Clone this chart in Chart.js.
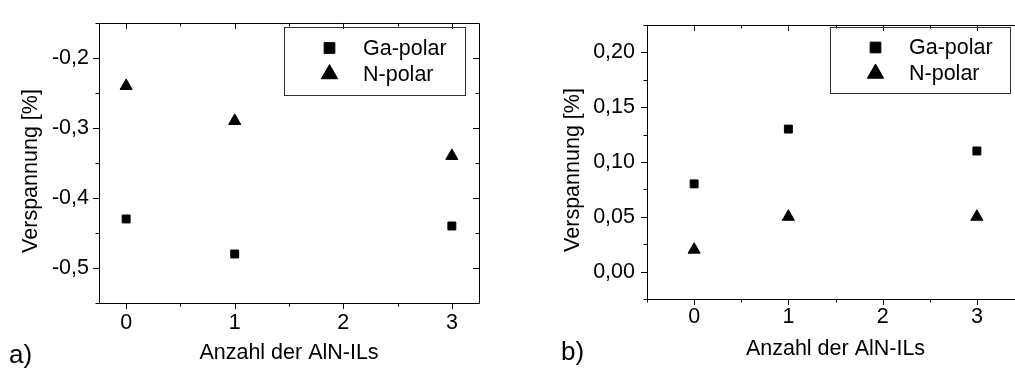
<!DOCTYPE html>
<html>
<head>
<meta charset="utf-8">
<script src="https://cdn.jsdelivr.net/npm/chart.js@4.4.0/dist/chart.umd.min.js"></script>
<style>
  html, body { margin: 0; padding: 0; background: #fff; }
  body { width: 1015px; height: 370px; overflow: hidden; position: relative; font-family: "Liberation Sans", Arial, sans-serif; }
  .box { position: absolute; top: 0; height: 370px; }
  #boxA { left: 0; width: 500px; }
  #boxB { left: 500px; width: 545px; }
  .tag { position: absolute; font-size: 26px; line-height: 26px; color: #000; }
</style>
</head>
<body>
<div class="box" id="boxA"><canvas id="chartA" width="500" height="370"></canvas></div>
<div class="box" id="boxB"><canvas id="chartB" width="545" height="370"></canvas></div>
<div class="tag" style="left:9px; top:341px;">a)</div>
<div class="tag" style="left:561px; top:338px;">b)</div>
<script>
// number of AlN interlayers
const ilCount = [0, 1, 3];
const seriesNames = ['Ga-polar', 'N-polar'];

// strain values, panel a) and b)
const strainGaA = [-0.43, -0.48, -0.44];
const strainNA = [-0.24, -0.29, -0.34];
const strainGaB = [0.08, 0.13, 0.11];
const strainNB = [0.02, 0.05, 0.05];

// tick values + labels
const xTickVals = [0, 1, 2, 3];
const xTickLabels = ['0', '1', '2', '3'];
const yTickValsA = [-0.5, -0.4, -0.3, -0.2];
const yTickLabelsA = ['-0,5', '-0,4', '-0,3', '-0,2'];
const yTickValsB = [0, 0.05, 0.10, 0.15, 0.20];
const yTickLabelsB = ['0,00', '0,05', '0,10', '0,15', '0,20'];

const xTitle = 'Anzahl der AlN-ILs';
const yTitle = 'Verspannung [%]';

const FONT = '"Liberation Sans", Arial, sans-serif';
const FSIZE = 21.5;

// minor ticks halfway between the majors (and outside them if still on the axis)
function minors(vals, min, max) {
  const out = [];
  const half = (vals[1] - vals[0]) / 2;
  const cand = [vals[0] - half];
  vals.forEach(v => cand.push(v + half));
  cand.forEach(v => { if (v >= min - 1e-9 && v <= max + 1e-9) out.push(v); });
  return out;
}

// box + ticks on all four sides, y title, legend
const framePlugin = {
  id: 'frame',
  afterDraw(chart, args, opts) {
    const ctx = chart.ctx;
    const a = chart.chartArea;
    const xs = chart.scales.x, ys = chart.scales.y;
    ctx.save();
    ctx.strokeStyle = '#000';
    ctx.lineWidth = 1;
    ctx.beginPath();
    ctx.rect(Math.round(a.left) + 0.5, Math.round(a.top) + 0.5, Math.round(a.right - a.left), Math.round(a.bottom - a.top));
    ctx.stroke();

    const drawX = (v, len) => {
      const p = Math.round(xs.getPixelForValue(v)) + 0.5;
      ctx.moveTo(p, a.bottom); ctx.lineTo(p, a.bottom + len);
      ctx.moveTo(p, a.top); ctx.lineTo(p, a.top + len);
    };
    const drawY = (v, len) => {
      const p = Math.round(ys.getPixelForValue(v)) + 0.5;
      ctx.moveTo(a.left, p); ctx.lineTo(a.left - len, p);
      ctx.moveTo(a.right, p); ctx.lineTo(a.right - len, p);
    };
    ctx.beginPath();
    opts.xMajor.forEach(v => drawX(v, 6));
    minors(opts.xMajor, xs.min, xs.max).forEach(v => drawX(v, 3.5));
    opts.yMajor.forEach(v => drawY(v, 6));
    minors(opts.yMajor, ys.min, ys.max).forEach(v => drawY(v, 3.5));
    ctx.stroke();

    // rotated y title
    ctx.fillStyle = '#000';
    ctx.font = FSIZE + 'px ' + FONT;
    ctx.translate(opts.yTitleX, opts.yTitleY);
    ctx.rotate(-Math.PI / 2);
    ctx.textAlign = 'center';
    ctx.textBaseline = 'alphabetic';
    ctx.fillText(yTitle, 0, 0);
    ctx.setTransform(1, 0, 0, 1, 0, 0);

    // legend
    const lg = opts.legend;
    ctx.strokeStyle = '#333';
    ctx.strokeRect(lg.x + 0.5, lg.y + 0.5, lg.w, lg.h);
    chart.data.datasets.forEach((ds, i) => {
      const y = lg.rows[i];
      ctx.fillStyle = '#000';
      ctx.strokeStyle = '#000';
      ctx.lineWidth = 1;
      Chart.helpers.drawPoint(ctx, {
        pointStyle: ds.pointStyle,
        radius: ds.pointRadius * 1.35,
        rotation: 0,
        borderWidth: 1
      }, lg.markerX, y);
      ctx.font = FSIZE + 'px ' + FONT;
      ctx.textAlign = 'left';
      ctx.textBaseline = 'middle';
      ctx.fillText(ds.label, lg.textX, y + 1);
    });
    ctx.restore();
  }
};

function makePanel(id, ga, nPol, yVals, yLabels, yMin, yMax, xMin, xMax, look) {
  const pts = arr => ilCount.map((c, i) => ({ x: c, y: arr[i] }));
  return new Chart(document.getElementById(id), {
    type: 'scatter',
    data: {
      datasets: [
        { label: seriesNames[0], data: pts(ga), pointStyle: 'rect', pointRadius: 5.6,
          backgroundColor: '#000', borderColor: '#000', borderWidth: 1 },
        { label: seriesNames[1], data: pts(nPol), pointStyle: 'triangle', pointRadius: 7,
          backgroundColor: '#000', borderColor: '#000', borderWidth: 1 }
      ]
    },
    options: {
      responsive: false,
      devicePixelRatio: 1,
      animation: false,
      layout: { padding: { left: 0, top: look.top, right: look.right, bottom: 0 } },
      plugins: {
        legend: { display: false },
        tooltip: { enabled: false },
        frame: look.frame
      },
      scales: {
        x: {
          type: 'linear', min: xMin, max: xMax,
          grid: { display: false, drawTicks: false },
          border: { display: false },
          afterBuildTicks: s => { s.ticks = xTickVals.map(v => ({ value: v })); },
          ticks: {
            callback: (v, i) => xTickLabels[i],
            padding: look.xPad, color: '#000', maxRotation: 0, autoSkip: false,
            font: { family: FONT, size: FSIZE }
          },
          title: {
            display: true, text: xTitle, color: '#000',
            font: { family: FONT, size: FSIZE },
            padding: { top: 0, bottom: look.xTitlePad }
          },
          afterFit: s => { s.height = look.xH; }
        },
        y: {
          type: 'linear', min: yMin, max: yMax,
          grid: { display: false, drawTicks: false },
          border: { display: false },
          afterBuildTicks: s => { s.ticks = yVals.map(v => ({ value: v })); },
          ticks: {
            callback: (v, i) => yLabels[i],
            padding: look.yPad, color: '#000', autoSkip: false,
            font: { family: FONT, size: FSIZE }
          },
          afterFit: s => { s.width = look.yW; }
        }
      }
    },
    plugins: [framePlugin]
  });
}

makePanel('chartA', strainGaA, strainNA, yTickValsA, yTickLabelsA, -0.55, -0.15, -0.25, 3.25, {
  top: 12, right: 21, xH: 67, yW: 99, xPad: 7, yPad: 10, xTitlePad: 4,
  frame: {
    xMajor: xTickVals, yMajor: yTickValsA, yTitleX: 37, yTitleY: 171,
    legend: { x: 284, y: 27, w: 181, h: 68, markerX: 329.5, textX: 363, rows: [48, 74] }
  }
});

makePanel('chartB', strainGaB, strainNB, yTickValsB, yTickLabelsB, -0.025, 0.225, -0.5, 3.5, {
  top: 11, right: 21, xH: 71, yW: 147, xPad: 5, yPad: 12, xTitlePad: 8,
  frame: {
    xMajor: xTickVals, yMajor: yTickValsB, yTitleX: 79, yTitleY: 170,
    legend: { x: 330, y: 27, w: 180, h: 66, markerX: 375.5, textX: 409, rows: [47.5, 73.5] }
  }
});
</script>
</body>
</html>
